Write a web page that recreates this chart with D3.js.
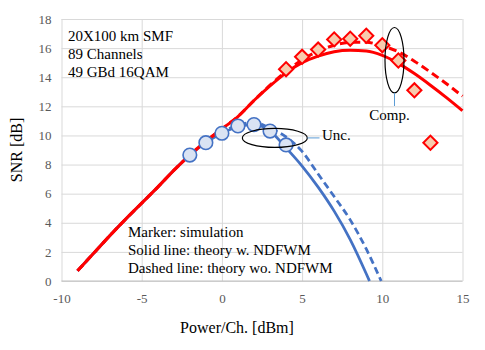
<!DOCTYPE html>
<html>
<head>
<meta charset="utf-8">
<script src="https://cdn.jsdelivr.net/npm/d3@7"></script>
<style>
	body { margin: 0; background: #fff; }
	svg text { font-family: "Liberation Serif", "Times New Roman", serif; }
</style>
</head>
<body>
<script>

// theory curves (power per channel in dBm, SNR in dB)
var redX = [-9, -8, -7, -6, -5, -4, -3, -2, -1, 0, 1, 2, 3, 4, 5, 6, 7, 8, 9, 10, 11, 12, 13, 14, 15];
var redSolid = [0.7, 1.9, 3.1, 4.25, 5.35, 6.45, 7.6, 8.65, 9.6, 10.45, 11.3, 12.4, 13.4, 14.3, 15.0, 15.45, 15.75, 15.85, 15.8, 15.5, 14.95, 14.25, 13.45, 12.6, 11.7];
var redDashed = [0.7, 1.9, 3.1, 4.25, 5.35, 6.45, 7.6, 8.65, 9.6, 10.45, 11.3, 12.4, 13.45, 14.4, 15.2, 15.8, 16.2, 16.4, 16.4, 16.15, 15.75, 15.1, 14.35, 13.55, 12.7];

var blueSolidX = [-9, -8, -7, -6, -5, -4, -3, -2, -1, 0, 1, 2, 3, 4, 5, 6, 7, 8, 9, 9.2];
var blueSolid = [0.7, 1.9, 3.1, 4.25, 5.35, 6.45, 7.6, 8.65, 9.5, 10.15, 10.6, 10.75, 10.3, 9.15, 7.9, 6.45, 4.8, 2.85, 0.5, 0];
var blueDashedX = [-9, -8, -7, -6, -5, -4, -3, -2, -1, 0, 1, 2, 3, 4, 5, 6, 7, 8, 9, 9.93];
var blueDashed = [0.7, 1.9, 3.1, 4.25, 5.35, 6.45, 7.6, 8.65, 9.55, 10.25, 10.7, 10.9, 10.5, 9.9, 8.9, 7.35, 5.8, 4.2, 2.2, 0];

// simulation markers
var blueSimX = [-2, -1, 0, 1, 2, 3, 4];
var blueSim = [8.65, 9.5, 10.15, 10.65, 10.75, 10.3, 9.35];
var redSimX = [4, 5, 6, 7, 8, 9, 10, 11, 12, 13];
var redSim = [14.55, 15.4, 15.9, 16.6, 16.65, 16.85, 16.2, 15.15, 13.1, 9.5];

// axes
var xTicks = [-10, -5, 0, 5, 10, 15];
var yTicks = [0, 2, 4, 6, 8, 10, 12, 14, 16, 18];
var xTitle = "Power/Ch. [dBm]";
var yTitle = "SNR [dB]";

// annotations
var infoLines = ["20X100 km SMF", "89 Channels", "49 GBd 16QAM"];
var noteLines = ["Marker: simulation", "Solid line: theory w. NDFWM", "Dashed line: theory wo. NDFWM"];



var W = 485, H = 350;
var serif = "'Liberation Serif', 'Times New Roman', serif";
var x = d3.scaleLinear().domain([-10, 15]).range([61.5, 462.5]);
var y = d3.scaleLinear().domain([0, 18]).range([281, 19]);

var svg = d3.select("body").append("svg")
	.attr("width", W)
	.attr("height", H);

// grid lines
svg.append("g")
	.attr("transform", "translate(0," + y(0) + ")")
	.call(d3.axisBottom(x).tickValues(xTicks).tickSize(-(y(0) - y(18))).tickFormat(""))
	.call(function (g) {
		g.select(".domain").remove();
		g.selectAll("line").attr("stroke", "#d9d9d9");
	});
svg.append("g")
	.attr("transform", "translate(" + x(-10) + ",0)")
	.call(d3.axisLeft(y).tickValues(yTicks).tickSize(-(x(15) - x(-10))).tickFormat(""))
	.call(function (g) {
		g.select(".domain").remove();
		g.selectAll("line").attr("stroke", "#d9d9d9");
	});
svg.append("line")
	.attr("x1", x(-10)).attr("x2", x(15))
	.attr("y1", y(0)).attr("y2", y(0))
	.attr("stroke", "#bfbfbf");

// tick labels (serif, grey)
function styleTicks(g) {
	g.select(".domain").remove();
	g.attr("font-family", null);
	g.selectAll("text")
		.style("font-family", serif)
		.style("font-size", "13px")
		.attr("fill", "#595959");
};
svg.append("g")
	.attr("transform", "translate(0," + y(0) + ")")
	.call(d3.axisBottom(x).tickValues(xTicks).tickSize(0).tickPadding(13).tickFormat(function (d) { return d < 0 ? "-" + Math.abs(d) : d; }))
	.call(styleTicks);
svg.append("g")
	.attr("transform", "translate(" + x(-10) + ",0)")
	.call(d3.axisLeft(y).tickValues(yTicks).tickSize(0).tickPadding(10))
	.call(styleTicks);

// axis titles
svg.append("text")
	.attr("x", 237).attr("y", 333)
	.attr("text-anchor", "middle")
	.attr("font-size", 16)
	.text(xTitle);
svg.append("text")
	.attr("transform", "translate(22,150) rotate(-90)")
	.attr("text-anchor", "middle")
	.attr("font-size", 16)
	.text(yTitle);

// theory lines
var line = d3.line()
	.x(function (d) { return x(d[0]); })
	.y(function (d) { return y(d[1]); })
	.curve(d3.curveMonotoneX);

function addLine(xs, ys, color, width, dash) {
	svg.append("path")
		.datum(d3.zip(xs, ys))
		.attr("d", line)
		.attr("fill", "none")
		.attr("stroke", color)
		.attr("stroke-width", width)
		.attr("stroke-dasharray", dash)
		.attr("stroke-linecap", "butt");
};

addLine(blueDashedX, blueDashed, "#4472c4", 2.75, "7,4");
addLine(blueSolidX, blueSolid, "#4472c4", 2.75, null);
addLine(redX, redDashed, "#ff0000", 3, "8,4.5");
addLine(redX, redSolid, "#ff0000", 3, null);

// simulation markers
svg.append("g").selectAll("circle")
	.data(d3.zip(blueSimX, blueSim))
	.join("circle")
	.attr("cx", function (d) { return x(d[0]); })
	.attr("cy", function (d) { return y(d[1]); })
	.attr("r", 6.8)
	.attr("fill", "#dae3f3")
	.attr("stroke", "#4472c4")
	.attr("stroke-width", 1.6);

svg.append("g").selectAll("path")
	.data(d3.zip(redSimX, redSim))
	.join("path")
	.attr("d", d3.symbol(d3.symbolSquare, 100))
	.attr("transform", function (d) { return "translate(" + x(d[0]) + "," + y(d[1]) + ") rotate(45)"; })
	.attr("fill", "#f8cbad")
	.attr("stroke", "#ff0000")
	.attr("stroke-width", 2);

// ellipses and callouts
svg.append("ellipse")
	.attr("cx", x(3.3)).attr("cy", y(9.83))
	.attr("rx", 32.5).attr("ry", 9.5)
	.attr("fill", "none").attr("stroke", "#000").attr("stroke-width", 1.2);
svg.append("line")
	.attr("x1", x(3.3) + 32.5).attr("x2", 319.5)
	.attr("y1", y(9.83)).attr("y2", y(9.83))
	.attr("stroke", "#5b9bd5").attr("stroke-width", 1);
svg.append("text")
	.attr("x", 322).attr("y", 140)
	.attr("font-size", 15)
	.text("Unc.");

svg.append("ellipse")
	.attr("cx", x(10.76)).attr("cy", y(15.17))
	.attr("rx", 9.5).attr("ry", 32.7)
	.attr("fill", "none").attr("stroke", "#000").attr("stroke-width", 1.2);
svg.append("line")
	.attr("x1", x(10.76)).attr("x2", x(10.76))
	.attr("y1", y(15.17) + 32.7).attr("y2", 106)
	.attr("stroke", "#5b9bd5").attr("stroke-width", 1);
svg.append("text")
	.attr("x", 389.5).attr("y", 119.5)
	.attr("text-anchor", "middle")
	.attr("font-size", 15)
	.text("Comp.");

// text blocks
svg.append("g").selectAll("text")
	.data(infoLines)
	.join("text")
	.attr("x", 68)
	.attr("y", function (d, i) { return 40.5 + i * 18; })
	.attr("font-size", 15)
	.text(function (d) { return d; });

svg.append("g").selectAll("text")
	.data(noteLines)
	.join("text")
	.attr("x", 128)
	.attr("y", function (d, i) { return 236.7 + i * 18; })
	.attr("font-size", 15)
	.text(function (d) { return d; });

</script>
</body>
</html>
